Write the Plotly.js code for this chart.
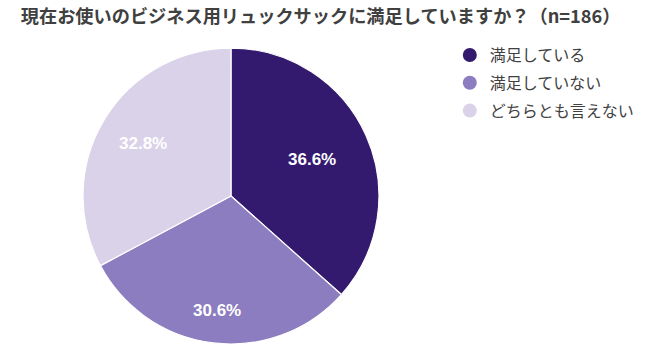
<!DOCTYPE html>
<html><head><meta charset="utf-8">
<script src="https://cdn.plot.ly/plotly-3.0.1.min.js"></script>
<style>html,body{margin:0;padding:0;background:#fff}#c{width:650px;height:363px}</style>
</head><body><div id="c"></div>
<script>
const labels = ["満足している", "満足していない", "どちらとも言えない"];
const values = [36.6, 30.6, 32.8];
const colors = ["#341a6f", "#8c7dc0", "#d9d2e9"];
const titleText = "現在お使いのビジネス用リュックサックに満足していますか？（n=186）";

// label placement style (fraction of radius from centre for each slice label)
const labelRadius = [0.60, 0.78, 0.69];

const W = 650, H = 363;
const dom = {x: [0.1277, 0.583], y: [0.0523, 0.8678]};
const font = "'Noto Sans CJK JP', 'Noto Sans', sans-serif";

const traces = [{
  type: "pie",
  labels: labels,
  values: values,
  sort: false,
  direction: "clockwise",
  rotation: 0,
  marker: {colors: colors, line: {color: "#ffffff", width: 1.2}},
  textinfo: "none",
  showlegend: false,
  hoverinfo: "none",
  domain: dom
}];
labels.forEach((l, i) => {
  traces.push({
    type: "scatter", mode: "markers", x: [null], y: [null], name: l,
    legendgroup: "g" + i,
    marker: {color: colors[i], size: 14, symbol: "circle"}, showlegend: true
  });
});

// annotations placed at each slice's mid-angle, derived from the values
const total = values.reduce((a, b) => a + b, 0);
const cx = (dom.x[0] + dom.x[1]) / 2 * W;
const cy = (dom.y[0] + dom.y[1]) / 2 * H;
const R = Math.min((dom.x[1] - dom.x[0]) * W, (dom.y[1] - dom.y[0]) * H) / 2;
let cum = 0;
const annotations = values.map((v, i) => {
  const mid = (cum + v / 2) / total * 2 * Math.PI;
  cum += v;
  const px = cx + Math.sin(mid) * R * labelRadius[i];
  const py = cy + Math.cos(mid) * R * labelRadius[i];
  return {
    xref: "paper", yref: "paper", x: px / W, y: py / H,
    xanchor: "center", yanchor: "middle", showarrow: false,
    text: "<b>" + v.toFixed(1) + "%</b>",
    font: {color: "#ffffff", size: 17, family: "'Liberation Sans', Arial, sans-serif"}
  };
});

const layout = {
  width: W, height: H,
  margin: {l: 0, r: 0, t: 0, b: 0},
  paper_bgcolor: "#fff", plot_bgcolor: "rgba(0,0,0,0)",
  title: {text: "<b>" + titleText + "</b>", x: 0.032, xanchor: "left", y: 0.955, yanchor: "middle",
          font: {size: 18.2, color: "#404040", family: font}},
  xaxis: {visible: false}, yaxis: {visible: false},
  legend: {x: 0.692, xanchor: "left", y: 0.895, yanchor: "top", tracegroupgap: 4,
           font: {size: 16, color: "#404040", family: font}, itemwidth: 30},
  annotations: annotations,
  showlegend: true
};
Plotly.newPlot("c", traces, layout, {displayModeBar: false, staticPlot: true});
</script></body></html>
